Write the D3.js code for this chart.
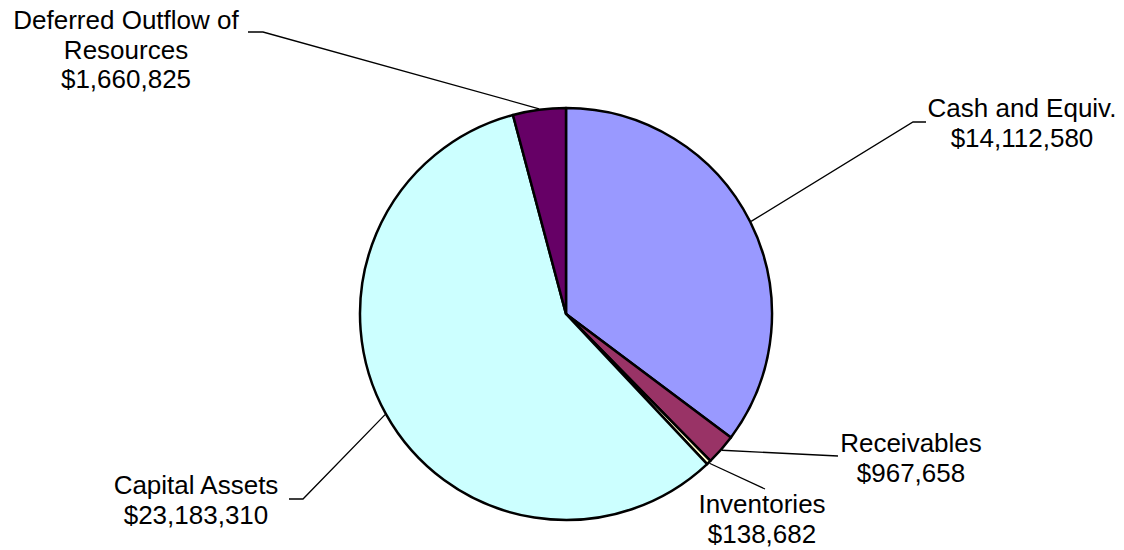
<!DOCTYPE html>
<html>
<head>
<meta charset="utf-8">
<script src="https://cdn.jsdelivr.net/npm/d3@7"></script>
<style>
  html, body { margin: 0; padding: 0; background: #fff; }
  svg { display: block; }
  text { font-family: Arial, "Liberation Sans", sans-serif; font-size: 26px; fill: #000; }
</style>
</head>
<body>
<svg id="chart" width="1124" height="550"></svg>
<script>
// ---- data ----
const categories = ["Cash and Equiv.", "Receivables", "Inventories", "Capital Assets", "Deferred Outflow of Resources"];
const values = [14112580, 967658, 138682, 23183310, 1660825];
const labelLines = [
  ["Cash and Equiv."],
  ["Receivables"],
  ["Inventories"],
  ["Capital Assets"],
  ["Deferred Outflow of", "Resources"]
];
const colors = ["#9999FF", "#993366", "#FFFFCC", "#CCFFFF", "#660066"];

// ---- layout (label anchors) ----
const labelLayout = [
  { pts: [[913, 122], [926, 122]], cx: 1022, y0: 117 },
  { pts: [[838, 456]], cx: 911, y0: 452 },
  { pts: [[765, 489]], cx: 762, y0: 513 },
  { pts: [[303, 499], [289, 499]], cx: 196, y0: 494 },
  { pts: [[263, 32], [248, 32]], cx: 126, y0: 29 }
];
const lineGap = 29.5;

const cx = 566, cy = 314, r = 206;
const svg = d3.select("#chart");
const g = svg.append("g").attr("transform", `translate(${cx},${cy})`);

const pie = d3.pie().sort(null).startAngle(0).endAngle(2 * Math.PI);
const arcs = pie(values);
const arc = d3.arc().innerRadius(0).outerRadius(r);

g.selectAll("path.slice")
  .data(arcs)
  .enter().append("path")
  .attr("class", "slice")
  .attr("d", arc)
  .attr("fill", (d, i) => colors[i])
  .attr("stroke", "#000")
  .attr("stroke-width", 2.5)
  .attr("stroke-linejoin", "round");

const fmt = d3.format(",");
const lineGen = d3.line();

arcs.forEach((d, i) => {
  const mid = (d.startAngle + d.endAngle) / 2;
  const ex = cx + (r + 1) * Math.sin(mid);
  const ey = cy - (r + 1) * Math.cos(mid);
  const L = labelLayout[i];
  svg.append("path")
    .attr("d", lineGen([[ex, ey], ...L.pts]))
    .attr("fill", "none")
    .attr("stroke", "#000")
    .attr("stroke-width", 1.3);
  const lines = [...labelLines[i], "$" + fmt(values[i])];
  const t = svg.append("text").attr("text-anchor", "middle");
  lines.forEach((s, k) => {
    t.append("tspan").attr("x", L.cx).attr("y", L.y0 + k * lineGap).text(s);
  });
});
</script>
</body>
</html>
